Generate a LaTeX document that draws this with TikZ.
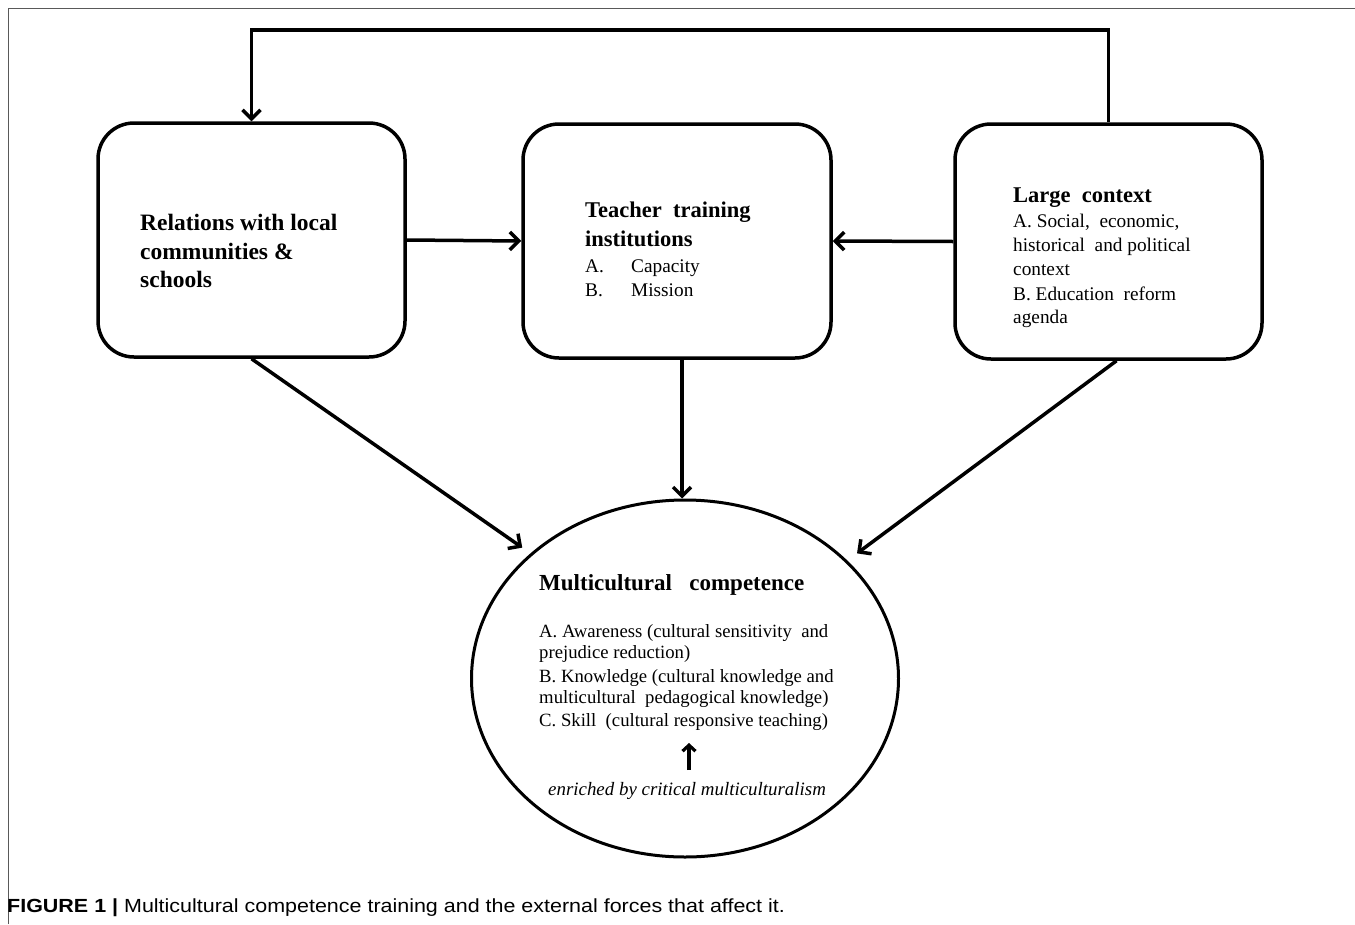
\documentclass[tikz,border=0pt]{standalone}
\usepackage{fontspec}
\setmainfont{Liberation Serif}
\newfontfamily\capfont{Liberation Sans}
\usetikzlibrary{arrows.meta,shapes.geometric,calc}
\tikzset{
  box/.style={draw=black, line width=3.5pt, rounded corners=36pt, minimum width=307pt, minimum height=234pt, inner sep=0pt},
  arr/.style={draw=black, line width=3.5pt, -{Straight Barb[length=9pt,width=18pt,line width=3.5pt]}},
  ttl/.style={anchor=base west, inner sep=0pt, font=\fontsize{22.5}{24}\selectfont\bfseries},
  txt/.style={anchor=base west, inner sep=0pt, font=\fontsize{19.3}{24}\selectfont},
  etxt/.style={anchor=base west, inner sep=0pt, font=\fontsize{18.7}{22}\selectfont},
}
\begin{document}
\begin{tikzpicture}[x=1pt,y=-1pt]
\useasboundingbox (0,0) rectangle (1355,924);
\draw[gray!70!black, line width=1pt] (8,924) -- (8,8) -- (1355,8);
% boxes
\node[box] (rel) at (251.5,240) {};
\node[box, minimum width=308pt] (tti) at (677,241) {};
\node[box, minimum height=235pt] (ctx) at (1108.5,241.5) {};
\node[draw=black, line width=3pt, ellipse, minimum width=427pt, minimum height=357pt, inner sep=0pt] (mc) at (685,678.5) {};
% texts
\node[ttl, font=\fontsize{23.5}{24}\selectfont\bfseries] (r1) at (140,230) {Relations with local};
\node[ttl, font=\fontsize{23.5}{24}\selectfont\bfseries] (r2) at (140,259) {communities \&};
\node[ttl, font=\fontsize{23.5}{24}\selectfont\bfseries] (r3) at (140,287) {schools};
\node[ttl] (t1) at (585,217) {Teacher\ \ training};
\node[ttl] (t2) at (585,246) {institutions};
\node[txt] (t3) at (585,272) {A.};
\node[txt] (t3b) at (631,272) {Capacity};
\node[txt] (t4) at (585,296) {B.};
\node[txt] (t4b) at (631,296) {Mission};
\node[ttl] (c1) at (1013,202) {Large\ \ context};
\node[txt] (c2) at (1013,227) {A. Social,\ \ economic,};
\node[txt] (c3) at (1013,251) {historical\ \ and political};
\node[txt] (c4) at (1013,275) {context};
\node[txt] (c5) at (1013,300) {B. Education\ \ reform};
\node[txt] (c6) at (1013,323) {agenda};
\node[ttl, font=\fontsize{23}{24}\selectfont\bfseries] (m1) at (539,590) {Multicultural\ \ \ competence};
\node[etxt] (m2) at (539,637) {A. Awareness (cultural sensitivity\ \ and};
\node[etxt] (m3) at (539,658) {prejudice reduction)};
\node[etxt] (m4) at (539,682) {B. Knowledge (cultural knowledge and};
\node[etxt] (m5) at (539,703) {multicultural\ \ pedagogical knowledge)};
\node[etxt] (m6) at (539,726) {C. Skill\ \ (cultural responsive teaching)};
\node[txt, font=\fontsize{18.9}{20}\selectfont\itshape] (en) at (548,795) {enriched by critical multiculturalism};
\coordinate (ena) at (689,770);
\coordinate (enb) at (689,743);
\draw[black, line width=3.2pt, -{Straight Barb[length=6pt,width=13pt,line width=3.2pt]}] (ena) -- (enb);
% connectors
\coordinate (top) at (0,30);
\draw[arr] (ctx.north) -- (ctx.north |- top) -| (rel.north);
\draw[arr] (rel.east) -- (tti.west);
\draw[arr] (ctx.west) -- (tti.east);
\draw[arr] ($(tti.south)+(5,0)$) -- ($(mc.north)+(-3,0)$);
\draw[arr, shorten >=10pt] (rel.south) -- (mc.141);
\draw[arr, shorten >=12pt] ($(ctx.south)+(8,0)$) -- (mc.36.4);
% caption
\node[anchor=base west, inner sep=0pt, font=\capfont\fontsize{19}{22}\selectfont] (cap) at (7,912) {\scalebox{1.13}[1]{\textbf{FIGURE 1} \textbf{|} Multicultural competence training and the external forces that affect it.}};
\end{tikzpicture}
\end{document}
